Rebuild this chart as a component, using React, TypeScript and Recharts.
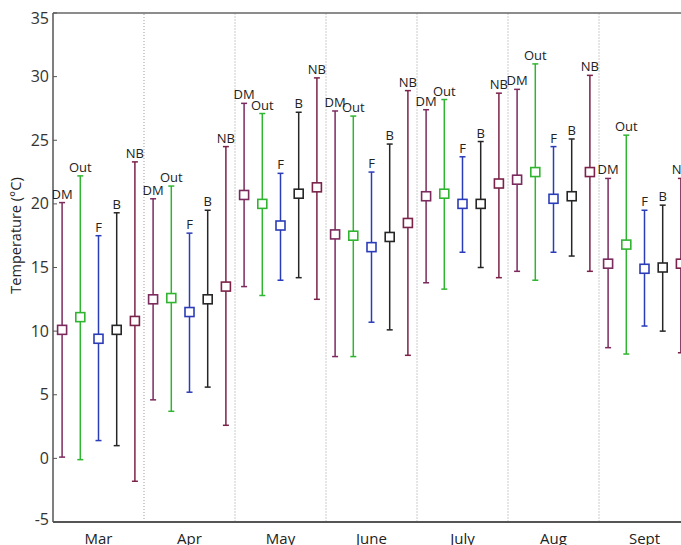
import React from "react";
import {
  ScatterChart,
  Scatter,
  XAxis,
  YAxis,
  ErrorBar,
  ReferenceLine,
} from "recharts";

const months = ["Mar", "Apr", "May", "June", "July", "Aug", "Sept"];
const seriesNames = ["DM", "Out", "F", "B", "NB"];
const seriesColors = ["#7b2a5e", "#2fb52f", "#2b3cb8", "#262626", "#7a2249"];

// mean / min / max per series, one value per month
const dmMean = [10.1, 12.5, 20.7, 17.6, 20.6, 21.9, 15.3];
const dmMin = [0.1, 4.6, 13.5, 8.0, 13.8, 14.7, 8.7];
const dmMax = [20.1, 20.4, 27.9, 27.3, 27.4, 29.0, 22.0];

const outMean = [11.1, 12.6, 20.0, 17.5, 20.8, 22.5, 16.8];
const outMin = [-0.1, 3.7, 12.8, 8.0, 13.3, 14.0, 8.2];
const outMax = [22.2, 21.4, 27.1, 26.9, 28.2, 31.0, 25.4];

const fMean = [9.4, 11.5, 18.3, 16.6, 20.0, 20.4, 14.9];
const fMin = [1.4, 5.2, 14.0, 10.7, 16.2, 16.2, 10.4];
const fMax = [17.5, 17.7, 22.4, 22.5, 23.7, 24.5, 19.5];

const bMean = [10.1, 12.5, 20.8, 17.4, 20.0, 20.6, 15.0];
const bMin = [1.0, 5.6, 14.2, 10.1, 15.0, 15.9, 10.0];
const bMax = [19.3, 19.5, 27.2, 24.7, 24.9, 25.1, 19.9];

const nbMean = [10.8, 13.5, 21.3, 18.5, 21.6, 22.5, 15.3];
const nbMin = [-1.8, 2.6, 12.5, 8.1, 14.2, 14.7, 8.3];
const nbMax = [23.3, 24.5, 29.9, 28.9, 28.7, 30.1, 22.0];

const yTicks = [-5, 0, 5, 10, 15, 20, 25, 30, 35];

const means = [dmMean, outMean, fMean, bMean, nbMean];
const mins = [dmMin, outMin, fMin, bMin, nbMin];
const maxs = [dmMax, outMax, fMax, bMax, nbMax];

const seriesData = seriesNames.map((name, s) =>
  months.map((m, i) => ({
    x: i * 5 + s + 0.5,
    y: means[s][i],
    err: [means[s][i] - mins[s][i], maxs[s][i] - means[s][i]],
  }))
);

const labelData = seriesNames.flatMap((name, s) =>
  months.map((m, i) => ({ x: i * 5 + s + 0.5, y: maxs[s][i], name }))
);

const monthTicks = months.map((m, i) => i * 5 + 2.5);
const separators = [5, 10, 15, 20, 25, 30];

const font = "'Open Sans', 'DejaVu Sans', sans-serif";

const YTick = (props: any) => {
  const { x, y, payload } = props;
  let dy = 0;
  if (payload.value === 35) dy = 5;
  if (payload.value === -5) dy = -3;
  return (
    <g>
      <line x1={x + 4} x2={x + 8} y1={y} y2={y} stroke="#555" strokeWidth={1} />
      <text
        x={x}
        y={y + dy}
        dy="0.35em"
        textAnchor="end"
        fill="#333"
        fontSize={16}
        fontFamily={font}
      >
        {payload.value}
      </text>
    </g>
  );
};

const squareShape = (color: string) => (props: any) => {
  const { cx, cy } = props;
  return (
    <rect
      x={cx - 4.5}
      y={cy - 4.5}
      width={9}
      height={9}
      fill="#fff"
      stroke={color}
      strokeWidth={1.6}
    />
  );
};

const labelShape = (props: any) => {
  const { cx, cy, payload } = props;
  return (
    <text
      x={cx}
      y={cy - 4}
      textAnchor="middle"
      fill="#222"
      fontSize={13}
      fontFamily={font}
    >
      {payload.name}
    </text>
  );
};

const YLabel = (props: any) => {
  const { viewBox } = props;
  const cx = 15;
  const cy = viewBox.y + viewBox.height / 2 - 32;
  return (
    <text
      x={cx}
      y={cy}
      transform={`rotate(-90, ${cx}, ${cy})`}
      textAnchor="middle"
      dominantBaseline="central"
      fill="#222"
      fontSize={14.5}
      fontFamily={font}
    >
      Temperature (°C)
    </text>
  );
};

export default function App() {
  return (
    <div
      style={{
        position: "absolute",
        left: 0,
        top: 0,
        width: 681,
        height: 545,
        overflow: "hidden",
        background: "#fff",
      }}
    >
      <ScatterChart
        width={700}
        height={545}
        margin={{ top: 0, right: 10, bottom: 0, left: 0 }}
      >
        <XAxis
          xAxisId="bottom"
          type="number"
          dataKey="x"
          domain={[0, 35]}
          ticks={monthTicks}
          tickFormatter={(v: number) => months[Math.floor(v / 5)]}
          allowDataOverflow
          height={23}
          tickLine={false}
          tickSize={0}
          tickMargin={11}
          axisLine={{ stroke: "#555", strokeWidth: 2 }}
          tick={{ fill: "#222", fontSize: 15, fontFamily: font }}
        />
        <XAxis
          xAxisId="top"
          orientation="top"
          type="number"
          domain={[0, 35]}
          ticks={monthTicks}
          tickFormatter={() => ""}
          allowDataOverflow
          height={13}
          tickSize={-4}
          tickLine={{ stroke: "#555" }}
          axisLine={{ stroke: "#666", strokeWidth: 1.5 }}
        />
        <YAxis
          type="number"
          dataKey="y"
          domain={[-5, 35]}
          ticks={yTicks}
          allowDataOverflow
          width={53}
          tickLine={false}
          tickSize={0}
          tickMargin={4}
          axisLine={{ stroke: "#555", strokeWidth: 1.5 }}
          tick={<YTick />}
          label={<YLabel />}
        />
        {separators.map((s, i) => (
          <ReferenceLine
            key={s}
            xAxisId="bottom"
            x={s}
            stroke={i === 0 ? "#999" : "#ccc"}
            strokeDasharray={i === 0 ? "1 2" : "2 1"}
          />
        ))}
        {seriesNames.map((name, s) => (
          <Scatter
            key={name}
            name={name}
            xAxisId="bottom"
            data={seriesData[s]}
            shape={squareShape(seriesColors[s])}
            isAnimationActive={false}
          >
            <ErrorBar
              dataKey="err"
              direction="y"
              width={3}
              stroke={seriesColors[s]}
              strokeWidth={1.5}
            />
          </Scatter>
        ))}
        <Scatter
          name="labels"
          xAxisId="bottom"
          data={labelData}
          shape={labelShape}
          isAnimationActive={false}
        />
      </ScatterChart>
    </div>
  );
}
